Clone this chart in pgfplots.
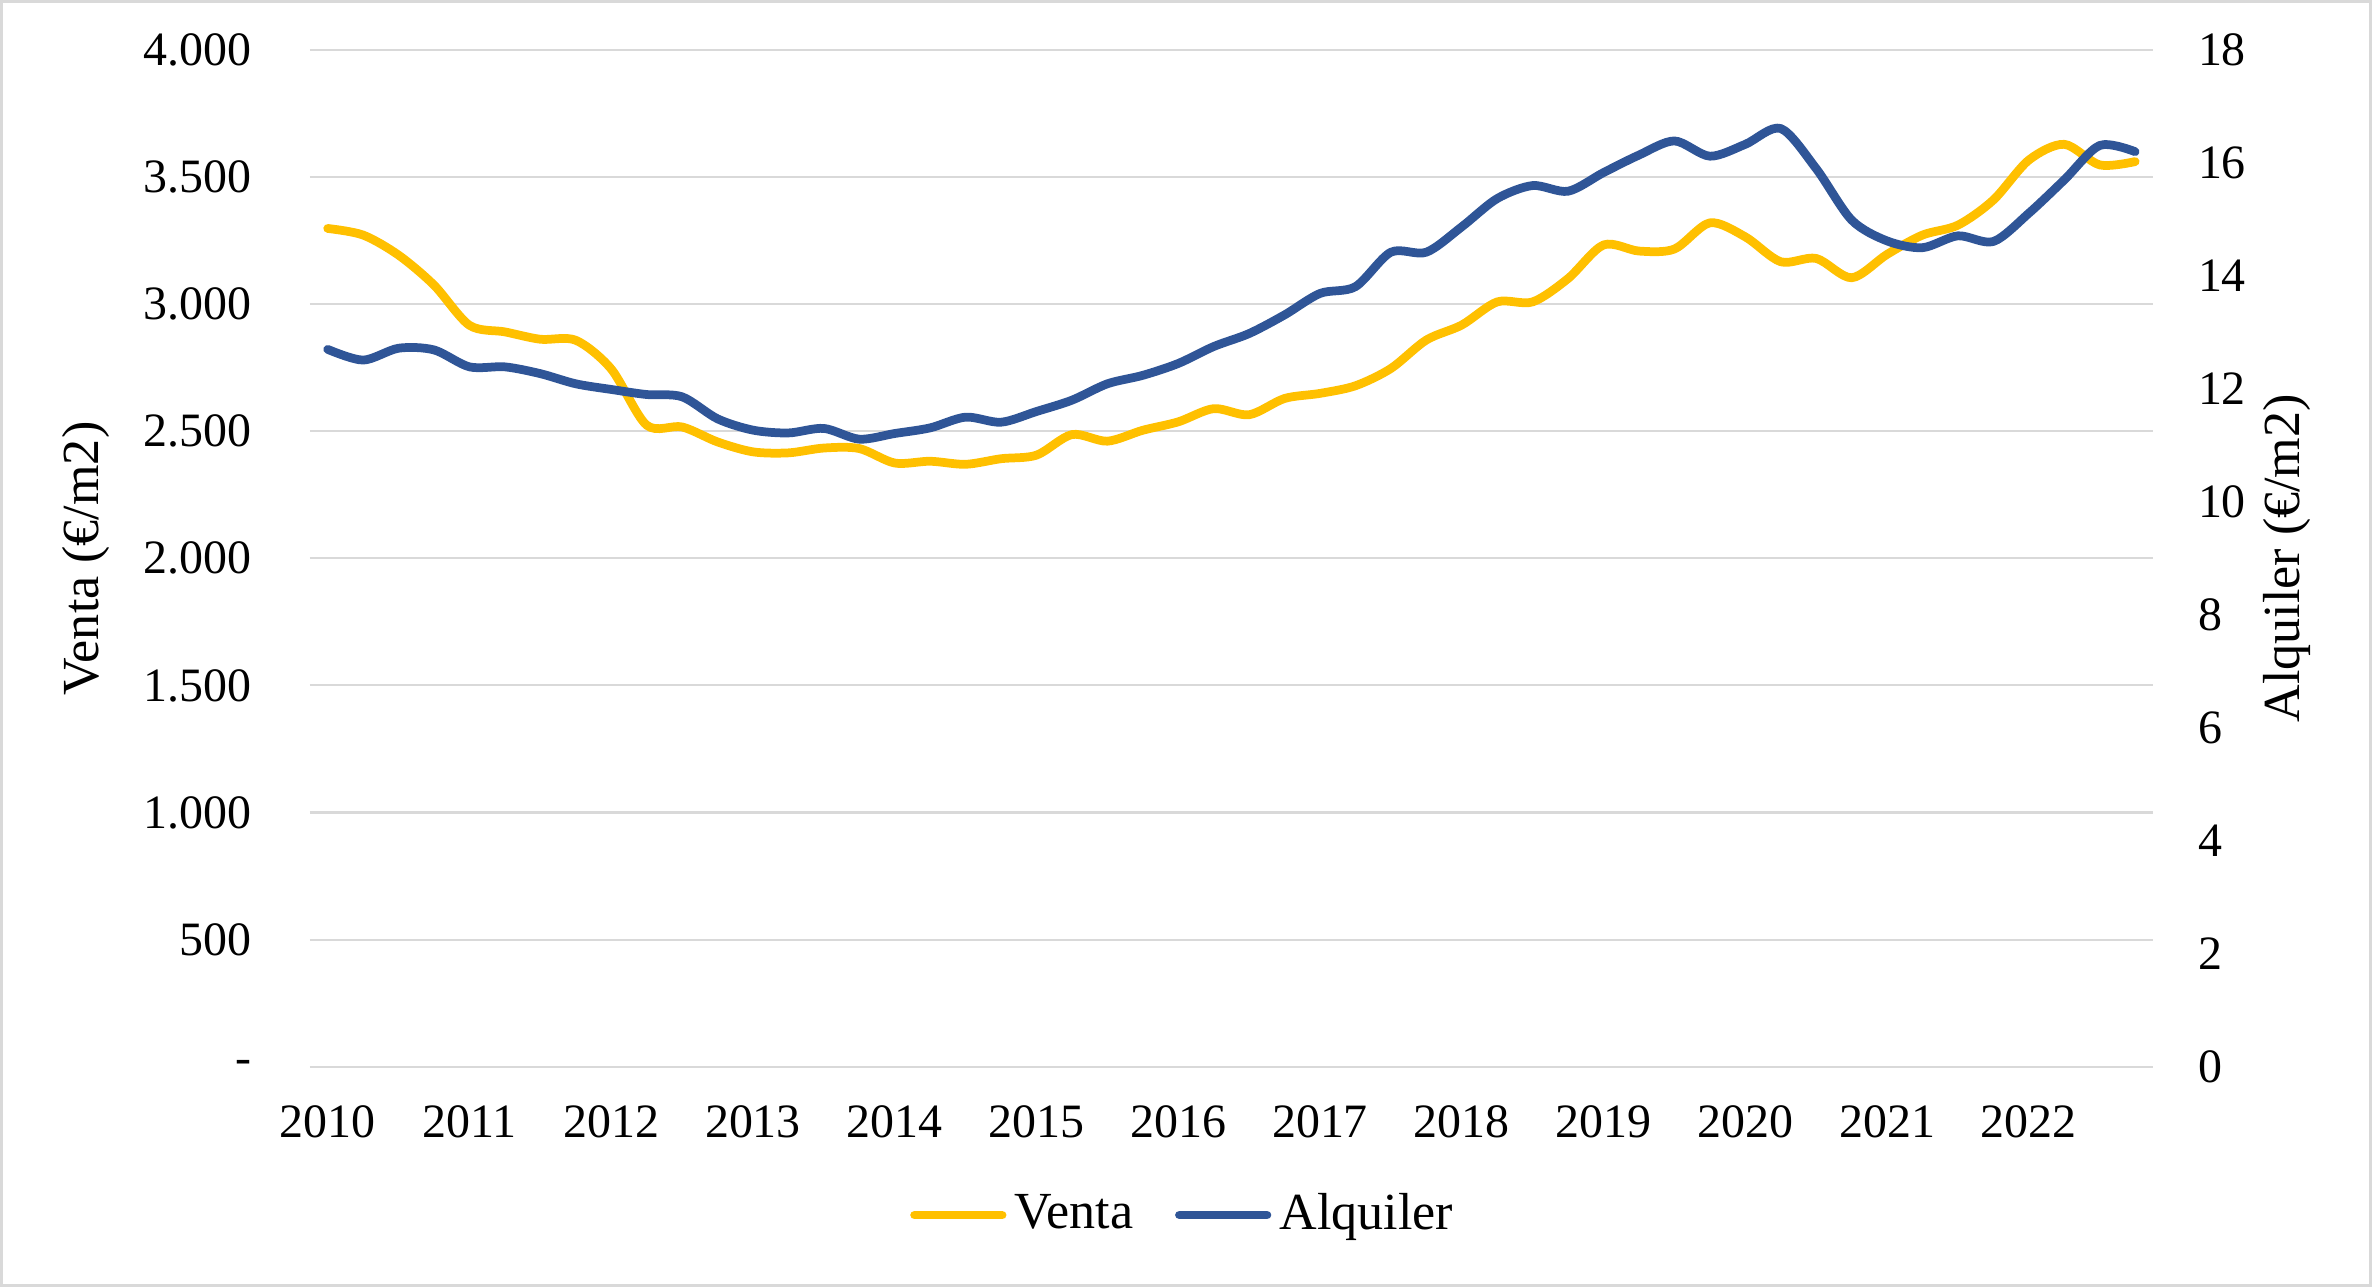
\documentclass[border=0pt]{standalone}
\usepackage{pgfplots}
\pgfplotsset{compat=1.18}
\usepackage{fontspec}
\setmainfont{Liberation Serif}

\definecolor{venta}{HTML}{FFC000}
\definecolor{alquiler}{HTML}{2F5597}
\definecolor{rejilla}{HTML}{D9D9D9}

% quarterly series, 2010Q1 .. 2022Q4
\pgfplotstableread{
i venta alquiler
0 3298 12.70
1 3272 12.51
2 3193 12.72
3 3075 12.69
4 2917 12.39
5 2891 12.39
6 2862 12.27
7 2858 12.09
8 2745 11.99
9 2524 11.90
10 2517 11.86
11 2458 11.47
12 2419 11.27
13 2415 11.22
14 2434 11.30
15 2432 11.11
16 2375 11.21
17 2382 11.31
18 2370 11.50
19 2392 11.41
20 2406 11.60
21 2487 11.80
22 2461 12.09
23 2504 12.24
24 2537 12.45
25 2589 12.75
26 2565 12.98
27 2629 13.31
28 2649 13.69
29 2679 13.81
30 2747 14.42
31 2859 14.42
32 2918 14.87
33 3009 15.37
34 3009 15.60
35 3101 15.50
36 3233 15.83
37 3209 16.14
38 3217 16.39
39 3320 16.12
40 3265 16.33
41 3167 16.61
42 3180 15.90
43 3104 14.99
44 3196 14.62
45 3272 14.50
46 3311 14.71
47 3410 14.61
48 3567 15.11
49 3629 15.70
50 3548 16.31
51 3561 16.20
}\datos

\pgfplotsset{
  base/.style={
    scale only axis,
    width=442.3pt, height=244pt,
    xmin=-0.5, xmax=51.5,
    axis line style={draw=none},
    major tick length=0pt,
    tick style={draw=none},
    legend image code/.code={\draw[##1, line width=2.1pt, line cap=round] (0pt,0pt) -- (21pt,0pt);},
  },
  serie/.style={line width=2.1pt, smooth, line cap=round, line join=round},
}

\begin{document}
\fontsize{11.5}{13.5}\selectfont
\begin{tikzpicture}
  \begin{axis}[
      base,
      name=main,
      ymin=0, ymax=4000,
      ytick={0,500,...,4000},
      yticklabels={{-\hspace{6pt}},500,1.000,1.500,2.000,2.500,3.000,3.500,4.000},
      yticklabel style={xshift=-10pt},
      ymajorgrids,
      grid style={rejilla, line width=0.5pt},
      xtick={0,4,...,48},
      xticklabels={2010,2011,2012,2013,2014,2015,2016,2017,2018,2019,2020,2021,2022},
      xticklabel style={yshift=-5.4pt},
      ylabel={Venta (€/m2)},
      every axis y label/.style={at={(axis description cs:-0.1216,0.5)}, rotate=90, anchor=center,
        font=\fontsize{12.5}{14}\selectfont},
      legend columns=2,
      legend style={at={(0.4753,-0.146)}, anchor=center, draw=none, fill=none,
        font=\fontsize{12.5}{14}\selectfont,
        /tikz/every even column/.append style={column sep=8pt}},
    ]
    \addplot[venta, serie] table[x=i, y=venta] {\datos};
    \addlegendentry{Venta}
    \addlegendimage{alquiler}
    \addlegendentry{Alquiler}
  \end{axis}
  \begin{axis}[
      base,
      axis y line*=right,
      axis x line=none,
      ymin=0, ymax=18,
      ytick={0,2,...,18},
      yticklabels={0,2,4,6,8,10,12,14,16,18},
      yticklabel style={anchor=west, xshift=6.8pt},
      ylabel={Alquiler (€/m2)},
      every axis y label/.style={at={(axis description cs:1.0728,0.5)}, rotate=90, anchor=center,
        font=\fontsize{12.5}{14}\selectfont},
    ]
    \addplot[alquiler, serie] table[x=i, y=alquiler] {\datos};
  \end{axis}
  \draw[rejilla, line width=0.8pt]
    ([xshift=-74.0pt, yshift=-52.5pt]main.south west) rectangle
    ([xshift=494.5pt, yshift=255.6pt]main.south west);
\end{tikzpicture}
\end{document}
